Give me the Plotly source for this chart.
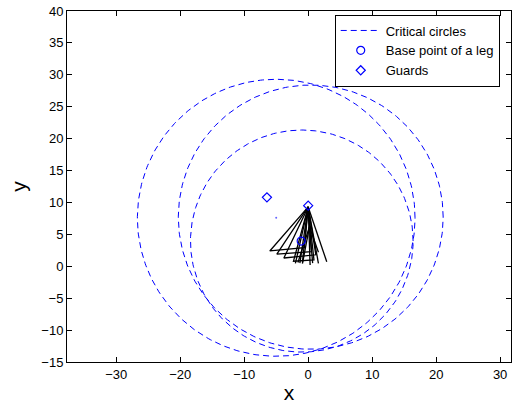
import numpy as np
import plotly.graph_objects as go

# Critical circles: centre x, centre y, radius
circle_cx = [-5.0, 0.4, -1.0]
circle_cy = [7.6, 7.7, 3.95]
circle_r = [21.7, 20.7, 17.4]

# Base point of the leg and guard positions
base_x = [-1.1]
base_y = [3.95]
guard_x = [-6.45, 0.0]
guard_y = [10.8, 9.5]

# Small centre marker of the first circle
centre_dot_x = [-5.0]
centre_dot_y = [7.6]

# Leg segments: apex at the guard, feet below
apex = (0.0, 9.3)
tri_left_x = [-6.0, -4.9, -3.8, -2.3]
tri_left_y = [2.4, 1.9, 1.3, 0.8]
tri_right_x = [-0.6, 0.5, 1.2, 0.9]
tri_right_y = [2.9, 2.3, 1.8, 1.0]
ray_x = [-2.0, -1.3, 0.3, 1.6, 2.9, -0.9]
ray_y = [0.45, 0.5, 0.2, 0.45, 0.7, 0.6]
inner_top = (0.2, 6.2)
inner_x = [-1.6, -0.9, 0.7, 1.6]
inner_y = [0.6, 0.4, 0.5, 2.2]

fig = go.Figure()

theta = np.linspace(0, 2 * np.pi, 400)
for i, (cx, cy, r) in enumerate(zip(circle_cx, circle_cy, circle_r)):
    fig.add_trace(go.Scatter(
        x=cx + r * np.cos(theta), y=cy + r * np.sin(theta),
        mode="lines", line=dict(color="#0000ff", width=1, dash="6px,4px"),
        name="Critical circles", showlegend=(i == 0), hoverinfo="skip"))

# Legs drawn as one black polyline with breaks
lx, ly = [], []
for x0, y0, x1, y1 in zip(tri_left_x, tri_left_y, tri_right_x, tri_right_y):
    lx += [apex[0], x0, x1, apex[0], None]
    ly += [apex[1], y0, y1, apex[1], None]
for x0, y0 in zip(ray_x, ray_y):
    lx += [apex[0], x0, None]
    ly += [apex[1], y0, None]
for x0, y0 in zip(inner_x, inner_y):
    lx += [inner_top[0], x0, None]
    ly += [inner_top[1], y0, None]
fig.add_trace(go.Scatter(x=lx, y=ly, mode="lines",
                         line=dict(color="black", width=1.3),
                         showlegend=False, hoverinfo="skip"))

fig.add_trace(go.Scatter(
    x=base_x, y=base_y, mode="markers", name="Base point of a leg",
    marker=dict(symbol="circle-open", size=8, color="#0000ff",
                line=dict(width=1.2))))
fig.add_trace(go.Scatter(
    x=guard_x, y=guard_y, mode="markers", name="Guards",
    marker=dict(symbol="diamond-open", size=7, color="#0000ff",
                line=dict(width=1.2))))
fig.add_trace(go.Scatter(
    x=centre_dot_x, y=centre_dot_y, mode="markers", showlegend=False,
    marker=dict(symbol="circle", size=2, color="#6666ff")))

axis_common = dict(
    showline=True, linecolor="black", linewidth=1, mirror="ticks",
    ticks="inside", ticklen=5, tickcolor="black", showgrid=False,
    zeroline=False, tickfont=dict(family="Liberation Sans, Arial", size=13, color="black"),
)

fig.update_layout(
    width=514, height=412,
    margin=dict(l=67, r=3, t=11, b=50),
    paper_bgcolor="white", plot_bgcolor="white",
    font=dict(family="Liberation Sans, Arial", color="black"),
    xaxis=dict(range=[-37.7, 31.7], tickvals=list(range(-30, 31, 10)),
               title=dict(text="x", font=dict(size=21), standoff=4),
               **axis_common),
    yaxis=dict(range=[-15, 40], tickvals=list(range(-15, 41, 5)),
               title=dict(text="y", font=dict(size=21), standoff=8),
               **axis_common),
    legend=dict(x=0.603, y=0.99, xanchor="left", yanchor="top",
                bgcolor="white", bordercolor="black", borderwidth=1,
                font=dict(family="Liberation Sans, Arial", size=13),
                tracegroupgap=0, itemwidth=40),
    showlegend=True,
)

fig.write_html("out.html")
